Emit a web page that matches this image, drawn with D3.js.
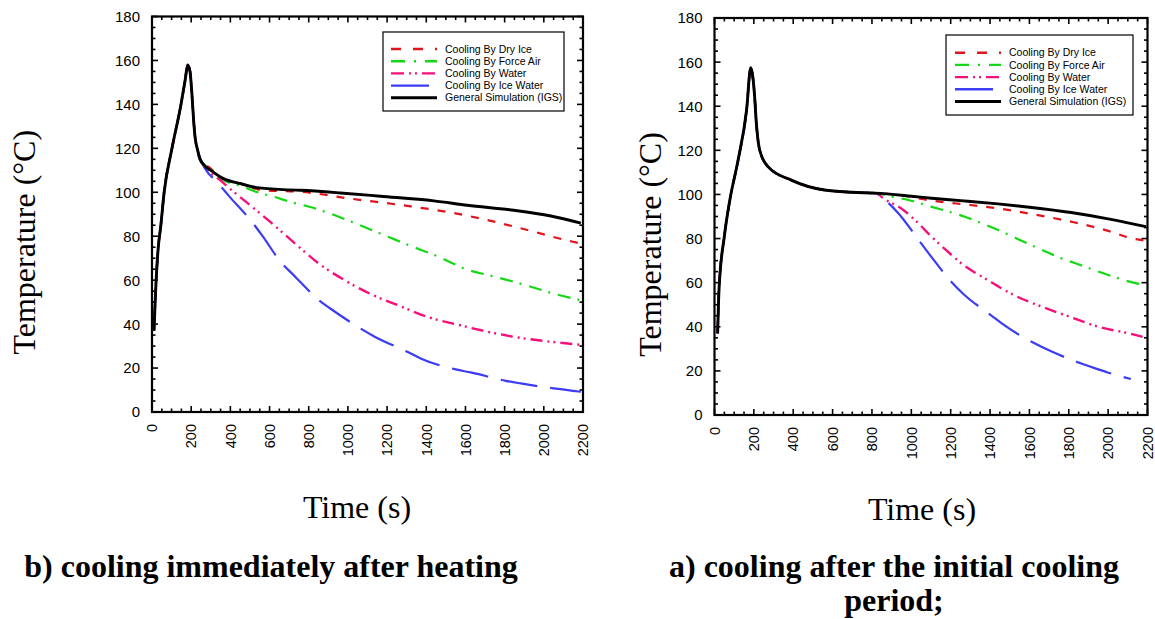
<!DOCTYPE html>
<html>
<head>
<meta charset="utf-8">
<script src="https://cdn.jsdelivr.net/npm/d3@7"></script>
<style>
  body { margin: 0; background: #fff; }
  text { fill: #000; }
</style>
</head>
<body>
<svg id="fig" width="1155" height="619"></svg>
<script>
// ---- data: time (s) vs temperature (°C) ----
const seriesNames = ["Cooling By Dry Ice", "Cooling By Force Air", "Cooling By Water", "Cooling By Ice Water", "General Simulation (IGS)"];
const xTicks = [0, 200, 400, 600, 800, 1000, 1200, 1400, 1600, 1800, 2000, 2200];
const yTicks = [0, 20, 40, 60, 80, 100, 120, 140, 160, 180];

// panel b: cooling immediately after heating
const heatingB = [[10,37],[20,58],[32,75],[44,84],[62,100],[102,120],[148,140],[170,151.5],[182,158],[194,155],[205,143],[213,132],[220,125],[232,119.5]];
const bDryIce   = [[245,115.2],[300,110.8],[365,106.2],[450,104],[569,100.9],[689,100.5],[757,100.2],[1013,97.1],[1320,93.6],[1524,90.8],[1729,87],[1934,82.4],[2138,77.7],[2189,76.7]];
const bForceAir = [[245,115.2],[300,110.5],[365,105.5],[450,103],[535,100.1],[620,98],[706,95.6],[808,93.3],[1021,86.5],[1166,81.2],[1311,75.9],[1456,70.9],[1610,64.8],[1754,61.5],[1908,57.7],[2061,53.6],[2189,50.9]];
const bWater    = [[245,115],[263,112.3],[348,105.5],[420,100],[501,94.1],[604,86.5],[740,75.9],[851,67.6],[979,60.2],[1118,53.6],[1264,48.3],[1409,43.2],[1562,39.7],[1715,36.5],[1869,33.9],[2022,32.1],[2189,30.6]];
const bIceWater = [[254,113.8],[339,104],[390,98.6],[510,86.5],[561,80.5],[663,67.6],[723,62.3],[757,59.2],[851,50.9],[910,47.1],[1072,37.6],[1132,34.5],[1303,27.4],[1371,24.4],[1550,19.4],[1627,18],[1806,14.2],[1882,13],[2061,10.6],[2189,9.2]];
const bIGS      = [[245,115],[270,112],[300,110],[365,106.2],[450,104],[535,102.1],[700,101.1],[757,100.9],[962,99.7],[1166,98.2],[1439,96.1],[1610,94.1],[1848,91.8],[2036,89.2],[2189,86]];

// panel a: cooling after the initial cooling period
const heatingA = [[16,37],[23,57],[50,81],[78,97.5],[120,115.6],[163,138.3],[184,157.5],[195,153],[205,143],[212,133],[218,127],[230,120],[272,112.6],[390,106.5],[558,102],[700,101],[816,100.6]];
const aDryIce   = [[950,99.6],[1103,97.2],[1300,95.2],[1440,93.7],[1600,91.3],[1825,87.4],[2000,83.5],[2115,80.2],[2190,79]];
const aForceAir = [[900,99],[985,97.5],[1100,94.5],[1272,89.9],[1450,83.5],[1609,77],[1750,71.5],[1862,67.9],[2000,63.5],[2149,59.6],[2190,59]];
const aWater    = [[870,97.5],[934,94.5],[1019,88.4],[1103,80.8],[1180,74.5],[1255,68.7],[1390,61.1],[1525,54.2],[1660,49.2],[1812,44.3],[1947,40.1],[2115,36.8],[2183,35.2]];
const aIceWater = [[875,96.8],[934,91.5],[1044,78.5],[1095,72.5],[1204,60.3],[1263,55],[1407,45.1],[1474,40.6],[1626,32.5],[1702,29.2],[1871,23.1],[1947,20.8],[1997,19.3],[2115,16.3]];
const aIGS      = [[1000,99.2],[1103,98.3],[1250,97.2],[1440,95.7],[1600,94.2],[1812,91.8],[2014,88.7],[2192,85.4]];

// ---- line styles (same order as seriesNames) ----
const lineStyles = [
  { color: "#e0141c", dash: "8,9",               width: 2.2, legendDash: "10,12",            legendLen: 46 },
  { color: "#14d814", dash: "13,7,2,8",          width: 2.2, legendDash: "14,9,2,9",         legendLen: 46 },
  { color: "#f5107a", dash: "12,5,2,4,2,5",      width: 2.4, legendDash: "13,5,2,4,2,5",     legendLen: 46 },
  { color: "#3c3cf5", dash: "37,13",             width: 2.2, legendDash: null,               legendLen: 38 },
  { color: "#000000", dash: null,                width: 2.9, legendDash: null,               legendLen: 46 }
];

const panels = [
  {
    series: [heatingB.concat(bDryIce), heatingB.concat(bForceAir), heatingB.concat(bWater), heatingB.concat(bIceWater), heatingB.concat(bIGS)],
    left: 152, right: 583, top: 16.5, bottom: 412,
    legend: { x: 383, y: 32, w: 181, h: 79, lineX: 391, textX: 445, rowY: 49, rowGap: 12.2 },
    yTitleX: 35, xTitleY: 518, xTitleCx: 357,
    caption: ["b) cooling immediately after heating"], captionCx: 271, captionY: 577
  },
  {
    series: [heatingA.concat(aDryIce), heatingA.concat(aForceAir), heatingA.concat(aWater), heatingA.concat(aIceWater), heatingA.concat(aIGS)],
    left: 714.5, right: 1147.5, top: 18, bottom: 415,
    legend: { x: 946, y: 35, w: 187, h: 80, lineX: 955, textX: 1009, rowY: 52.7, rowGap: 12.2 },
    yTitleX: 661, xTitleY: 520, xTitleCx: 922,
    caption: ["a) cooling after the initial cooling", "period;"], captionCx: 894, captionY: 577
  }
];

const svg = d3.select("#fig");

panels.forEach(p => {
  const x = d3.scaleLinear().domain([0, 2200]).range([p.left, p.right]);
  const y = d3.scaleLinear().domain([0, 180]).range([p.bottom, p.top]);
  const g = svg.append("g");

  // inward ticks on all four sides: minor every 5 °C / 50 s, major every 20 °C / 200 s
  const yMinor = d3.range(0, 181, 5);
  const xMinor = d3.range(0, 2201, 50);
  const tickG = g.append("g").attr("stroke", "#000").attr("stroke-width", 1.6);
  yMinor.forEach(v => {
    const len = v % 20 === 0 ? 6 : 3.5;
    tickG.append("line").attr("x1", p.left).attr("x2", p.left + len).attr("y1", y(v)).attr("y2", y(v));
    tickG.append("line").attr("x1", p.right).attr("x2", p.right - len).attr("y1", y(v)).attr("y2", y(v));
  });
  xMinor.forEach(v => {
    const len = v % 200 === 0 ? 6 : 3.5;
    tickG.append("line").attr("x1", x(v)).attr("x2", x(v)).attr("y1", p.bottom).attr("y2", p.bottom - len);
    tickG.append("line").attr("x1", x(v)).attr("x2", x(v)).attr("y1", p.top).attr("y2", p.top + len);
  });

  // frame
  g.append("rect")
    .attr("x", p.left).attr("y", p.top)
    .attr("width", p.right - p.left).attr("height", p.bottom - p.top)
    .attr("fill", "none").attr("stroke", "#000").attr("stroke-width", 2.2);

  // y tick labels
  g.append("g").selectAll("text").data(yTicks).join("text")
    .attr("x", p.left - 12).attr("y", d => y(d)).attr("dy", "0.36em")
    .attr("text-anchor", "end")
    .style("font-family", "'Liberation Sans', Arial, sans-serif").style("font-size", "15px")
    .text(d => d);

  // x tick labels, rotated
  g.append("g").selectAll("text").data(xTicks).join("text")
    .attr("transform", d => `translate(${x(d)},${p.bottom + 12}) rotate(-90)`)
    .attr("dy", "0.36em")
    .attr("text-anchor", "end")
    .style("font-family", "'Liberation Sans', Arial, sans-serif").style("font-size", "14.5px")
    .text(d => d);

  // curves
  const line = d3.line().x(d => x(d[0])).y(d => y(d[1])).curve(d3.curveMonotoneX);
  g.append("g").selectAll("path").data(p.series).join("path")
    .attr("d", line)
    .attr("fill", "none")
    .attr("stroke", (d, i) => lineStyles[i].color)
    .attr("stroke-width", (d, i) => lineStyles[i].width)
    .attr("stroke-dasharray", (d, i) => lineStyles[i].dash)
    .attr("stroke-linejoin", "round");

  // legend
  const L = p.legend;
  const lg = g.append("g");
  lg.append("rect").attr("x", L.x).attr("y", L.y).attr("width", L.w).attr("height", L.h)
    .attr("fill", "#fff").attr("stroke", "#000").attr("stroke-width", 1.2);
  seriesNames.forEach((name, i) => {
    const s = lineStyles[i];
    const ry = L.rowY + i * L.rowGap;
    lg.append("line")
      .attr("x1", L.lineX).attr("x2", L.lineX + s.legendLen)
      .attr("y1", ry).attr("y2", ry)
      .attr("stroke", s.color).attr("stroke-width", i === 4 ? 3 : 2.4)
      .attr("stroke-dasharray", s.legendDash);
    lg.append("text")
      .attr("x", L.textX).attr("y", ry).attr("dy", "0.35em")
      .style("font-family", "'Liberation Sans', Arial, sans-serif").style("font-size", "10.5px")
      .text(name);
  });

  // axis titles
  g.append("text")
    .attr("transform", `translate(${p.yTitleX},${(p.top + p.bottom) / 2 + 28}) rotate(-90)`)
    .attr("text-anchor", "middle")
    .style("font-family", "'Liberation Serif', 'Times New Roman', serif").style("font-size", "32px")
    .text("Temperature (°C)");
  g.append("text")
    .attr("x", p.xTitleCx).attr("y", p.xTitleY)
    .attr("text-anchor", "middle")
    .style("font-family", "'Liberation Serif', 'Times New Roman', serif").style("font-size", "32px")
    .text("Time (s)");

  // caption
  p.caption.forEach((c, i) => {
    g.append("text")
      .attr("x", p.captionCx).attr("y", p.captionY + i * 34)
      .attr("text-anchor", "middle")
      .style("font-family", "'Liberation Serif', 'Times New Roman', serif")
      .style("font-size", "32px").style("font-weight", "bold")
      .text(c);
  });
});
</script>
</body>
</html>
